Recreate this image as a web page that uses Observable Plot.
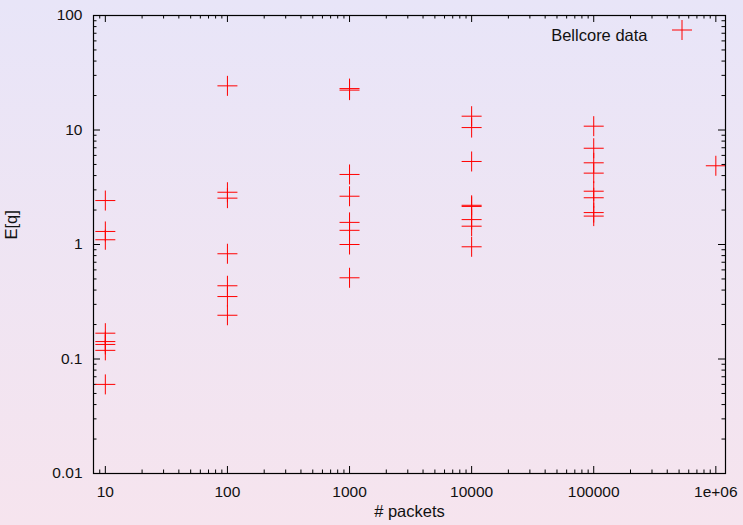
<!DOCTYPE html>
<html>
<head>
<meta charset="utf-8">
<script src="https://cdn.jsdelivr.net/npm/d3@7"></script>
<script src="https://cdn.jsdelivr.net/npm/@observablehq/plot@0.6"></script>
<style>
  html, body { margin: 0; padding: 0; }
  body { width: 743px; height: 525px; overflow: hidden;
         background: linear-gradient(to bottom, #e8e5f8 0%, #f6e4ee 100%); }
  #chart svg { display: block; }
</style>
</head>
<body>
<div id="chart"></div>
<script>
// Data (Bellcore data)
const packets = [
  10, 10, 10, 10, 10, 10, 10, 10,
  100, 100, 100, 100, 100, 100, 100,
  1000, 1000, 1000, 1000, 1000, 1000, 1000, 1000,
  10000, 10000, 10000, 10000, 10000, 10000, 10000, 10000,
  100000, 100000, 100000, 100000, 100000, 100000, 100000, 100000,
  1000000
];
const eq = [
  2.42, 1.30, 1.10, 0.168, 0.142, 0.134, 0.119, 0.060,
  24.3, 2.86, 2.54, 0.83, 0.436, 0.351, 0.241,
  22.3, 23.0, 4.09, 2.64, 1.56, 1.33, 1.0, 0.512,
  13.2, 10.5, 5.31, 2.20, 2.15, 1.65, 1.445, 0.955,
  10.8, 6.93, 5.17, 4.20, 2.92, 2.56, 1.90, 1.77,
  4.87
];
const seriesName = "Bellcore data";
const xTicks = [10, 100, 1000, 10000, 100000, 1000000];
const xTickLabels = ["10", "100", "1000", "10000", "100000", "1e+06"];
const yTicks = [0.01, 0.1, 1, 10, 100];
const yTickLabels = ["0.01", "0.1", "1", "10", "100"];
const xLabel = "# packets";
const yLabel = "E[q]";

const data = packets.map((p, i) => ({packets: p, eq: eq[i]}));

const W = 743, H = 525;
const mL = 93, mR = 18, mT = 15, mB = 52;
const innerW = W - mL - mR, innerH = H - mT - mB;
const xDomain = [8, 1.2e6], yDomain = [0.01, 100];

function minorTicks(domain) {
  const out = [];
  for (let e = Math.floor(Math.log10(domain[0])); e <= Math.ceil(Math.log10(domain[1])); e++) {
    for (let k = 2; k <= 9; k++) {
      const v = k * Math.pow(10, e);
      if (v >= domain[0] && v <= domain[1]) out.push(v);
    }
  }
  return out;
}
const xMinor = minorTicks(xDomain);
const yMinor = minorTicks(yDomain);
const MAJ = 7, MIN = 3.5;
const font = "'Liberation Sans', Arial, sans-serif";
const tickFont = 15.5, labelFont = 16.5;

// gnuplot-style "+" point symbol, fixed half-length of 10px
const plusSymbol = {
  draw(ctx) {
    const r = 10;
    ctx.moveTo(-r, 0); ctx.lineTo(r, 0);
    ctx.moveTo(0, -r); ctx.lineTo(0, r);
  }
};

const chart = Plot.plot({
  width: W, height: H,
  marginLeft: mL, marginRight: mR, marginTop: mT, marginBottom: mB,
  style: {background: "transparent", fontFamily: font, fontSize: "15px", color: "#111"},
  x: {type: "log", domain: xDomain, axis: null},
  y: {type: "log", domain: yDomain, axis: null},
  marks: [
    // inward ticks on all four sides
    Plot.ruleX(xTicks, {x: d => d, insetTop: innerH - MAJ, stroke: "#000"}),
    Plot.ruleX(xTicks, {x: d => d, insetBottom: innerH - MAJ, stroke: "#000"}),
    Plot.ruleX(xMinor, {x: d => d, insetTop: innerH - MIN, stroke: "#000"}),
    Plot.ruleX(xMinor, {x: d => d, insetBottom: innerH - MIN, stroke: "#000"}),
    Plot.ruleY(yTicks, {y: d => d, insetRight: innerW - MAJ, stroke: "#000"}),
    Plot.ruleY(yTicks, {y: d => d, insetLeft: innerW - MAJ, stroke: "#000"}),
    Plot.ruleY(yMinor, {y: d => d, insetRight: innerW - MIN, stroke: "#000"}),
    Plot.ruleY(yMinor, {y: d => d, insetLeft: innerW - MIN, stroke: "#000"}),
    // tick labels
    Plot.text(xTicks, {x: d => d, frameAnchor: "bottom", dy: 23, text: (d, i) => xTickLabels[i], fontSize: tickFont, fill: "#111"}),
    Plot.text(yTicks, {y: d => d, frameAnchor: "left", dx: -11, textAnchor: "end", text: (d, i) => yTickLabels[i], fontSize: tickFont, fill: "#111"}),
    // axis titles
    Plot.text([xLabel], {frameAnchor: "bottom", text: d => d, dy: 43, fontSize: labelFont, fill: "#111"}),
    Plot.text([yLabel], {frameAnchor: "left", text: d => d, dx: -82, dy: -5, rotate: -90, fontSize: labelFont, fill: "#111"}),
    // data
    Plot.dot(data, {x: "packets", y: "eq", symbol: plusSymbol, r: 10, fill: "none", stroke: "#ff0000", strokeWidth: 1}),
    // legend
    Plot.text([seriesName], {frameAnchor: "top-right", text: d => d, dx: -78, dy: 14, textAnchor: "end", fontSize: labelFont, fill: "#111"}),
    Plot.dot([seriesName], {frameAnchor: "top-right", dx: -43.5, dy: 14.5, symbol: plusSymbol, r: 10, fill: "none", stroke: "#ff0000", strokeWidth: 1}),
    Plot.frame({stroke: "#000", strokeWidth: 1.2})
  ]
});
document.getElementById("chart").appendChild(chart);
</script>
</body>
</html>
